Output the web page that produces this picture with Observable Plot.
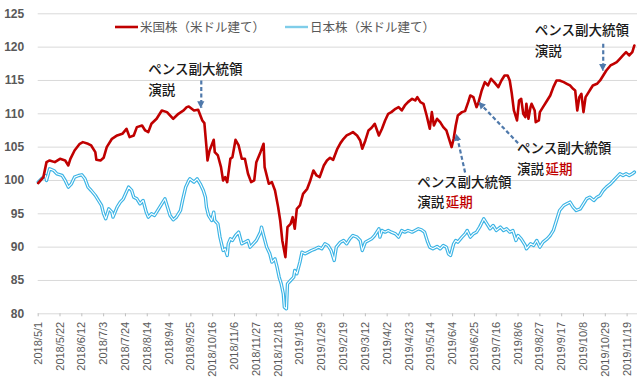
<!DOCTYPE html>
<html>
<head>
<meta charset="utf-8">
<script src="https://cdn.jsdelivr.net/npm/d3@7"></script>
<script src="https://cdn.jsdelivr.net/npm/@observablehq/plot@0.6"></script>
<style>
  html, body { margin: 0; padding: 0; background: #fff; }
  #chart { position: relative; width: 640px; height: 387px; }
</style>
</head>
<body>
<div id="chart"></div>
<script>
// ---- Data ----
const usDates = ["2018-05-01","2018-05-06","2018-05-09","2018-05-12","2018-05-17","2018-05-22","2018-05-27","2018-05-30","2018-06-01","2018-06-05","2018-06-10","2018-06-13","2018-06-18","2018-06-21","2018-06-25","2018-06-26","2018-06-30","2018-07-03","2018-07-06","2018-07-11","2018-07-16","2018-07-21","2018-07-25","2018-07-28","2018-08-01","2018-08-04","2018-08-09","2018-08-12","2018-08-15","2018-08-18","2018-08-23","2018-08-28","2018-09-02","2018-09-08","2018-09-13","2018-09-18","2018-09-21","2018-09-23","2018-09-28","2018-10-02","2018-10-06","2018-10-08","2018-10-10","2018-10-11","2018-10-13","2018-10-17","2018-10-18","2018-10-21","2018-10-24","2018-10-26","2018-10-28","2018-10-30","2018-11-02","2018-11-04","2018-11-07","2018-11-10","2018-11-13","2018-11-16","2018-11-19","2018-11-22","2018-11-25","2018-11-27","2018-12-01","2018-12-04","2018-12-05","2018-12-09","2018-12-12","2018-12-15","2018-12-18","2018-12-20","2018-12-22","2018-12-25","2018-12-27","2018-12-30","2019-01-01","2019-01-03","2019-01-05","2019-01-08","2019-01-11","2019-01-15","2019-01-18","2019-01-21","2019-01-24","2019-01-27","2019-01-31","2019-02-03","2019-02-06","2019-02-09","2019-02-13","2019-02-16","2019-02-19","2019-02-22","2019-02-25","2019-02-28","2019-03-04","2019-03-07","2019-03-09","2019-03-12","2019-03-15","2019-03-18","2019-03-21","2019-03-25","2019-03-28","2019-03-31","2019-04-03","2019-04-06","2019-04-10","2019-04-13","2019-04-16","2019-04-19","2019-04-22","2019-04-26","2019-04-29","2019-05-01","2019-05-04","2019-05-07","2019-05-10","2019-05-13","2019-05-15","2019-05-17","2019-05-20","2019-05-23","2019-05-26","2019-05-29","2019-06-01","2019-06-03","2019-06-05","2019-06-07","2019-06-09","2019-06-13","2019-06-16","2019-06-19","2019-06-21","2019-06-24","2019-06-27","2019-06-29","2019-07-02","2019-07-05","2019-07-08","2019-07-11","2019-07-14","2019-07-18","2019-07-21","2019-07-24","2019-07-27","2019-07-29","2019-07-31","2019-08-02","2019-08-05","2019-08-07","2019-08-09","2019-08-11","2019-08-13","2019-08-14","2019-08-16","2019-08-18","2019-08-19","2019-08-22","2019-08-23","2019-08-26","2019-08-27","2019-08-30","2019-09-03","2019-09-06","2019-09-09","2019-09-12","2019-09-15","2019-09-19","2019-09-22","2019-09-25","2019-09-28","2019-09-30","2019-10-02","2019-10-04","2019-10-06","2019-10-08","2019-10-10","2019-10-13","2019-10-15","2019-10-17","2019-10-21","2019-10-24","2019-10-27","2019-10-30","2019-11-03","2019-11-06","2019-11-09","2019-11-12","2019-11-15","2019-11-18","2019-11-21","2019-11-24","2019-11-26"];
const usValues = [99.6,100.5,102.75,103,102.75,103.25,103,102.25,103.25,104.5,105.5,105.75,105.5,105.25,104.25,103.1,103,103.4,105,106.25,106.75,107,107.75,106.5,106.75,108,108.25,107.5,107.25,108.5,109.25,110.5,110.25,109.25,110,110.5,111,111.1,110.5,110.6,109,108.6,105,103,104.5,106.1,104.25,103.75,102,100,100.5,99.75,103.25,103.5,106.1,105.25,103.25,103.25,101,99.75,100,102.75,104.25,105.5,102,99.5,99.75,98.5,96,94,91,88.5,93,93.5,94.5,92.75,95.75,96.25,98,98.75,100,101.5,100.75,100.5,102.25,103,103.4,103.1,104.75,105.6,106.25,106.75,107,107.25,106.75,106,104.75,106,107.5,107.9,108.5,106.75,107.75,109,110,110.25,110.75,111,110.5,111.25,111.75,112.25,112,112.5,111.75,111.5,109.75,107.75,110.25,108.25,109.25,108.75,108,107.5,106,105,106.25,108.25,109.75,110.25,110.4,111.75,112.75,112.5,111,111.75,113.5,114.75,114.25,115.25,114.75,114,115,115.75,115.75,115,113,110.5,109,112,112.25,110,109.5,111.5,109.25,111,111.5,110.5,108.75,109,110.25,111,112,112.75,114,115,115,114.75,114.5,114.25,113.75,113.5,110.5,112.5,113,110.25,112.5,113.25,113.75,114.25,114.5,115,115.75,116.5,117.25,117.5,117.75,118.25,118.75,119.25,118.75,119.25,120.25];

const jpDates = ["2018-05-01","2018-05-04","2018-05-08","2018-05-09","2018-05-12","2018-05-16","2018-05-19","2018-05-24","2018-05-27","2018-05-30","2018-06-02","2018-06-05","2018-06-09","2018-06-12","2018-06-15","2018-06-18","2018-06-21","2018-06-25","2018-06-28","2018-07-01","2018-07-03","2018-07-05","2018-07-08","2018-07-11","2018-07-12","2018-07-16","2018-07-19","2018-07-22","2018-07-27","2018-07-30","2018-08-01","2018-08-04","2018-08-07","2018-08-10","2018-08-13","2018-08-15","2018-08-18","2018-08-21","2018-08-25","2018-08-28","2018-08-31","2018-09-02","2018-09-05","2018-09-08","2018-09-11","2018-09-15","2018-09-17","2018-09-20","2018-09-23","2018-09-24","2018-09-28","2018-10-01","2018-10-04","2018-10-07","2018-10-09","2018-10-10","2018-10-12","2018-10-15","2018-10-17","2018-10-18","2018-10-21","2018-10-23","2018-10-26","2018-10-28","2018-10-30","2018-10-31","2018-11-02","2018-11-04","2018-11-07","2018-11-10","2018-11-13","2018-11-16","2018-11-19","2018-11-21","2018-11-24","2018-11-27","2018-12-01","2018-12-02","2018-12-04","2018-12-07","2018-12-10","2018-12-12","2018-12-15","2018-12-17","2018-12-19","2018-12-21","2018-12-23","2018-12-24","2018-12-26","2018-12-27","2018-12-30","2019-01-02","2019-01-03","2019-01-05","2019-01-08","2019-01-10","2019-01-13","2019-01-16","2019-01-19","2019-01-23","2019-01-26","2019-01-29","2019-02-01","2019-02-04","2019-02-07","2019-02-10","2019-02-12","2019-02-16","2019-02-19","2019-02-22","2019-02-25","2019-02-28","2019-03-04","2019-03-07","2019-03-09","2019-03-12","2019-03-15","2019-03-18","2019-03-21","2019-03-25","2019-03-26","2019-03-28","2019-03-31","2019-04-03","2019-04-06","2019-04-10","2019-04-13","2019-04-16","2019-04-19","2019-04-22","2019-04-26","2019-04-29","2019-05-02","2019-05-05","2019-05-08","2019-05-11","2019-05-13","2019-05-16","2019-05-20","2019-05-23","2019-05-26","2019-05-29","2019-05-31","2019-06-02","2019-06-05","2019-06-07","2019-06-09","2019-06-13","2019-06-16","2019-06-18","2019-06-21","2019-06-24","2019-06-27","2019-06-30","2019-07-04","2019-07-07","2019-07-10","2019-07-13","2019-07-16","2019-07-20","2019-07-23","2019-07-26","2019-07-29","2019-08-01","2019-08-04","2019-08-06","2019-08-09","2019-08-13","2019-08-14","2019-08-18","2019-08-21","2019-08-24","2019-08-27","2019-08-30","2019-09-03","2019-09-06","2019-09-09","2019-09-12","2019-09-15","2019-09-19","2019-09-22","2019-09-25","2019-09-28","2019-10-01","2019-10-05","2019-10-08","2019-10-11","2019-10-14","2019-10-18","2019-10-21","2019-10-24","2019-10-27","2019-10-30","2019-11-03","2019-11-06","2019-11-09","2019-11-12","2019-11-15","2019-11-18","2019-11-21","2019-11-24","2019-11-26"];
const jpValues = [99.75,100.25,100.75,100,101.75,101.5,101,100.75,100,99,99.5,100.5,100.75,100.85,100.25,99,98.5,97.75,97,96.25,95,94.25,95.75,95.25,94.5,96,96.75,97.25,99,98.5,97.5,97.25,96.5,97,95.25,94.5,95,94.75,95.75,96.5,97.25,96.25,94.75,94.1,94.5,95.5,97,99,100,100.25,99.75,100.25,99.5,98.5,97.5,96,94.75,94,95.25,94,93.5,91.5,89.5,89.75,88.75,90.5,91.25,91,91.75,92.25,90.5,90.75,91,90,90.5,91,92.25,93,91.75,90,89,87.75,88.25,87,85.5,84.5,83,81,80.75,84.5,85,85.5,86.5,86,87.75,89.25,89,89.25,89.5,89.75,90,89.75,90.5,90.25,89.5,88,90,90.75,91,90.5,91.25,91.75,91.5,91,89.5,90.75,91,91.25,91.75,92.75,91.5,92.5,92.25,92.5,92.25,92,91.5,92.5,92.25,92.5,92.25,92.5,92.75,92.6,92.25,90.75,90,89.75,90.1,89.75,90.25,90,89,88.75,90.5,91,90.75,91.5,92,92.5,91.5,92,92.25,93,94.25,93.5,92.75,93.25,92.5,93,92.5,92.75,92.25,92.5,91,91.75,91.25,90.25,89.75,90.5,90.25,91,90,90.75,91.25,91.75,92.5,94,95.5,96.25,96.5,96.75,96,95.5,95.75,96.5,97.25,97.5,97,97.5,97.75,98.5,99,99.5,100,100.5,101,100.75,101,100.75,101,101.25];

const yTicks = [80, 85, 90, 95, 100, 105, 110, 115, 120, 125];
const xTickLabels = ["2018/5/1","2018/5/22","2018/6/12","2018/7/3","2018/7/24","2018/8/14","2018/9/4","2018/9/25","2018/10/16","2018/11/6","2018/11/27","2018/12/18","2019/1/8","2019/1/29","2019/2/19","2019/3/12","2019/4/2","2019/4/23","2019/5/14","2019/6/4","2019/6/25","2019/7/16","2019/8/6","2019/8/27","2019/9/17","2019/10/8","2019/10/29","2019/11/19"];

const seriesNames = ["米国株（米ドル建て）", "日本株（米ドル建て）"];

// annotations
const noteDates  = ["2018-08-15","2018-08-15","2019-05-01","2019-05-01","2019-08-05","2019-08-05","2019-08-22","2019-08-22"];
const noteValues = [116.55, 113.45, 99.7, 96.6, 104.7, 101.6, 122.4, 119.3];
const noteTexts  = ["ペンス副大統領","演説","ペンス副大統領","演説","ペンス副大統領","演説","ペンス副大統領","演説"];
const redNoteDates  = ["2019-05-01","2019-08-05"];
const redNoteValues = [96.6, 101.6];
const redNoteTexts  = ["延期","延期"];

const arrowFromDates  = ["2018-10-05","2019-06-16","2019-08-06","2019-10-27"];
const arrowFromValues = [115.0, 101.2, 105.6, 120.5];
const arrowToDates    = ["2018-10-05","2019-06-08","2019-06-30","2019-10-27"];
const arrowToValues   = [110.9, 106.8, 111.6, 116.5];

// ---- Build tables ----
const parseTick = d3.utcParse("%Y/%m/%d");
const fmtTick = d3.utcFormat("%Y/%-m/%-d");
const xTicks = xTickLabels.map(parseTick);
const us = usDates.map((d, i) => ({date: new Date(d), value: usValues[i]}));
const jp = jpDates.map((d, i) => ({date: new Date(d), value: jpValues[i]}));
const notes = noteDates.map((d, i) => ({date: new Date(d), value: noteValues[i], text: noteTexts[i]}));
const redNotes = redNoteDates.map((d, i) => ({date: new Date(d), value: redNoteValues[i], text: redNoteTexts[i]}));
const arrows = arrowFromDates.map((d, i) => ({
  x1: new Date(d), y1: arrowFromValues[i], x2: new Date(arrowToDates[i]), y2: arrowToValues[i]
}));

const FONT = "'Liberation Sans', Arial, 'Noto Sans CJK JP', sans-serif";
const JFONT = "'Noto Sans CJK JP', 'Liberation Sans', sans-serif";
const ARROW = "#4f79ab";

const chart = Plot.plot({
  width: 640,
  height: 387,
  marginLeft: 37.7,
  marginRight: 3,
  marginTop: 13.3,
  marginBottom: 73.7,
  style: {fontFamily: FONT, background: "#fff", overflow: "visible"},
  x: {type: "utc", domain: [new Date("2018-05-01"), new Date("2019-11-29")]},
  y: {domain: [80, 125]},
  marks: [
    Plot.ruleY(yTicks, {stroke: "#d9d9d9", strokeWidth: 1}),
    Plot.ruleX(xTicks, {y1: 80, y2: 79.55, stroke: "#bfbfbf", strokeWidth: 1}),
    Plot.axisY(yTicks, {tickSize: 0, tickPadding: 14, fontSize: 12, color: "#595959", label: null}),
    Plot.axisX(xTicks, {tickSize: 0, tickPadding: 8, tickRotate: -90, fontSize: 11, color: "#595959", tickFormat: fmtTick, label: null}),
    Plot.line(jp, {x: "date", y: "value", stroke: "#3cb4e5", strokeWidth: 3.4}),
    Plot.line(jp, {x: "date", y: "value", stroke: "#ffffff", strokeWidth: 1.1}),
    Plot.line(us, {x: "date", y: "value", stroke: "#c00000", strokeWidth: 2.6}),
    Plot.link(arrows, {x1: "x1", y1: "y1", x2: "x2", y2: "y2", stroke: ARROW, strokeWidth: 2.2, strokeDasharray: "4,2.5"}),
    Plot.text(notes, {x: "date", y: "value", text: "text", textAnchor: "start", fontSize: 13.5, fontWeight: 500, fill: "#1a1a1a", fontFamily: JFONT}),
    Plot.text(redNotes, {x: "date", y: "value", text: "text", textAnchor: "start", dx: 28.5, fontSize: 13.5, fontWeight: 500, fill: "#c00000", fontFamily: JFONT})
  ]
});

document.getElementById("chart").appendChild(chart);

const svg = d3.select(chart);
// bold y tick labels
svg.selectAll("[aria-label='y-axis tick label'] text").attr("font-weight", "bold");

// ---- Arrow heads (filled triangles at the arrow tips, via the chart's scales) ----
const sx = chart.scale("x"), sy = chart.scale("y");
const heads = svg.append("g").attr("fill", ARROW);
arrows.forEach(a => {
  const x1 = sx.apply(a.x1), y1 = sy.apply(a.y1), x2 = sx.apply(a.x2), y2 = sy.apply(a.y2);
  const len = Math.hypot(x2 - x1, y2 - y1), ux = (x2 - x1) / len, uy = (y2 - y1) / len;
  const L = 6, W = 3.6;
  const bx = x2 - ux * L, by = y2 - uy * L;
  heads.append("path").attr("d",
    `M${x2 + ux},${y2 + uy}L${bx - uy * W},${by + ux * W}L${bx + uy * W},${by - ux * W}Z`);
});

// ---- Legend (inside plot area, top) ----
const legend = svg.append("g").attr("font-family", JFONT).attr("font-size", 12.5).attr("fill", "#595959").attr("text-anchor", "start");
const legendItems = [
  {name: seriesNames[0], x: 115, color: "#c00000", w: 2.6},
  {name: seriesNames[1], x: 285, color: "#7fcde9", w: 2.4}
];
legendItems.forEach(it => {
  legend.append("line").attr("x1", it.x).attr("x2", it.x + 23).attr("y1", 27).attr("y2", 27)
    .attr("stroke", it.color).attr("stroke-width", it.w);
  legend.append("text").attr("x", it.x + 25).attr("y", 27).attr("dy", "0.36em").text(it.name);
});
</script>
</body>
</html>
